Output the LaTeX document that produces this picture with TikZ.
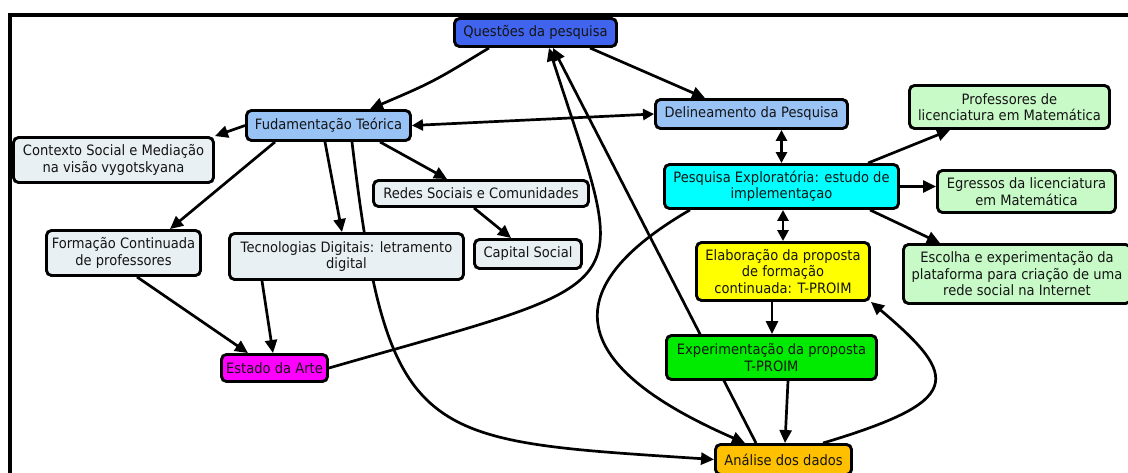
\documentclass[tikz,border=0pt]{standalone}
\usepackage{fontspec}
\setmainfont{DejaVu Sans}[FakeStretch=0.915]
\usetikzlibrary{arrows.meta}
\pgfdeclarelayer{background}
\pgfsetlayers{background,main}
\definecolor{cq}{RGB}{64,100,238}
\definecolor{cb}{RGB}{153,194,245}
\definecolor{cg}{RGB}{233,240,243}
\definecolor{cc}{RGB}{0,255,255}
\definecolor{cl}{RGB}{200,250,200}
\definecolor{cy}{RGB}{255,255,0}
\definecolor{cgr}{RGB}{0,235,0}
\definecolor{co}{RGB}{255,192,0}
\definecolor{cm}{RGB}{255,0,255}
\definecolor{ct}{RGB}{20,20,20}
\tikzset{
  box/.style={draw=black, line width=2.9pt, rounded corners=5pt, inner sep=0pt,
    align=center, font=\fontsize{14.3}{16.5}\selectfont, text=ct},
  conn/.style={line width=2.7pt, -{Triangle[length=13pt,width=12pt]}},
  dconn/.style={line width=2.7pt, {Triangle[length=11pt,width=11pt]}-{Triangle[length=11pt,width=11pt]}},
  frame/.style={line width=4pt}
}
\begin{document}
\begin{tikzpicture}[x=1pt,y=-1pt]
\useasboundingbox (0,0) rectangle (1128,472);
\clip (0,0) rectangle (1128,472);
\draw[frame] (9.5,480) -- (9.5,14.5) -- (1135,14.5);

\node[box, fill=cq, minimum width=162pt, minimum height=28pt] (q) at (535.5,32.5) {Questões da pesquisa};
\node[box, fill=cb, minimum width=164pt, minimum height=30pt] (fund) at (328.5,125.5) {Fudamentação Teórica};
\node[box, fill=cb, minimum width=192pt, minimum height=29pt] (del) at (751.5,114) {Delineamento da Pesquisa};
\node[box, fill=cg, minimum width=200pt, minimum height=45pt] (ctx) at (113.5,160) {Contexto Social e Mediação\\na visão vygotskyana};
\node[box, fill=cg, minimum width=215pt, minimum height=26pt] (redes) at (481,193.5) {Redes Sociais e Comunidades};
\node[box, fill=cg, minimum width=107pt, minimum height=29pt] (cap) at (528,254) {Capital Social};
\node[box, fill=cg, minimum width=154pt, minimum height=45pt] (form) at (123.5,253) {Formação Continuada\\de professores};
\node[box, fill=cg, minimum width=234pt, minimum height=46pt] (tec) at (346.5,256.5) {Tecnologias Digitais: letramento\\digital};
\node[box, fill=cm, minimum width=106pt, minimum height=27pt] (est) at (274.5,368) {Estado da Arte};
\node[box, fill=cc, minimum width=234pt, minimum height=44pt] (pesq) at (781.5,186.5) {Pesquisa Exploratória: estudo de\\implementaçao};
\node[box, fill=cl, minimum width=200pt, minimum height=43pt] (prof) at (1009.5,107) {Professores de\\licenciatura em Matemática};
\node[box, fill=cl, minimum width=178pt, minimum height=42pt] (egr) at (1026.5,191.5) {Egressos da licenciatura\\em Matemática};
\node[box, fill=cl, minimum width=227pt, minimum height=59pt] (esc) at (1017,274) {Escolha e experimentação da\\plataforma para criação de uma\\rede social na Internet};
\node[box, fill=cy, minimum width=173pt, minimum height=58pt] (elab) at (783,271.5) {Elaboração da proposta\\de formação\\continuada: T-PROIM};
\node[box, fill=cgr, minimum width=210pt, minimum height=44pt] (exp) at (771.5,357.5) {Experimentação da proposta\\T-PROIM};
\node[box, fill=co, minimum width=136pt, minimum height=30pt] (ana) at (783.5,459.5) {Análise dos dados};

\begin{pgfonlayer}{background}
\draw[conn] ([xshift=-46.5pt]q.south) .. controls (433,82) .. ([xshift=41.5pt]fund.north);
\draw[conn] ([xshift=54.5pt]q.south) -- ([xshift=-46.5pt]del.north);
\draw[dconn] (fund.east) -- (del.west);
\draw[conn] (fund.west) -- (ctx.north east);
\draw[conn] ([xshift=-53.5pt]fund.south) -- ([xshift=46.5pt]form.north);
\draw[conn] ([xshift=-3.5pt]fund.south) -- ([xshift=-4.5pt]tec.north);
\draw[conn] ([xshift=51.5pt]fund.south) -- ([xshift=-34pt]redes.north);
\draw[conn] ([xshift=-7pt]redes.south) -- ([xshift=-17pt]cap.north);
\draw[conn] ([xshift=13.5pt]form.south) -- ([xshift=-26.5pt]est.north);
\draw[conn] ([xshift=-84.5pt]tec.south) -- ([xshift=-1.5pt]est.north);
\draw[conn] (est.east) .. controls (649,276) and (630,300) .. ([xshift=13.5pt]q.south);
\draw[conn] ([xshift=-27.5pt]ana.north) -- ([xshift=17.5pt]q.south);
\draw[conn] ([xshift=23.5pt]fund.south) .. controls (388,445) and (420,440) .. (ana.west);
\draw[conn] ([xshift=-91.5pt]pesq.south) .. controls (559,286) and (561,363) .. ([xshift=-38.5pt]ana.north);
\draw[conn] ([xshift=39.5pt]ana.north) .. controls (963,401) and (961,378) .. (elab.south east);
\draw[dconn] (pesq.north |- del.south) -- (pesq.north);
\draw[dconn] (elab.north |- pesq.south) -- (elab.north);
\draw[conn] ([xshift=-11pt]elab.south) -- ([xshift=-11pt]elab.south |- exp.north);
\draw[conn] ([xshift=16.5pt]exp.south) -- ([xshift=1.5pt]ana.north);
\draw[conn] ([xshift=86.5pt]pesq.north) -- ([xshift=-59.5pt]prof.south);
\draw[conn] (pesq.east) -- (pesq.east -| egr.west);
\draw[conn] ([xshift=88.5pt]pesq.south) -- ([xshift=-77pt]esc.north);
\end{pgfonlayer}
\end{tikzpicture}
\end{document}
